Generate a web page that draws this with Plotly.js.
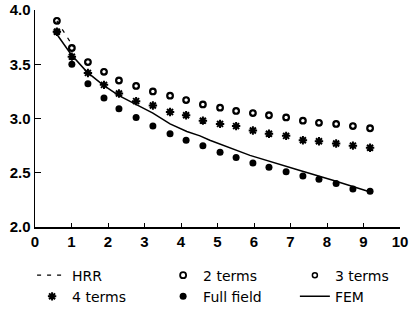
<!DOCTYPE html>
<html>
<head>
<meta charset="utf-8">
<script src="https://cdn.plot.ly/plotly-3.0.1.min.js"></script>
<style>html,body{margin:0;padding:0;background:#fff;}#chart{width:413px;height:322px;}</style>
</head>
<body>
<div id="chart"></div>
<script>
// Data
const xPts = [0.60, 1.01, 1.45, 1.89, 2.30, 2.77, 3.23, 3.70, 4.14, 4.60, 5.07, 5.51, 5.97, 6.41, 6.88, 7.34, 7.78, 8.25, 8.71, 9.18];
const twoTerms = [3.90, 3.65, 3.52, 3.43, 3.35, 3.30, 3.25, 3.21, 3.17, 3.13, 3.10, 3.07, 3.05, 3.03, 3.01, 2.98, 2.96, 2.95, 2.93, 2.91];
const threeTerms = [3.90, 3.65, 3.52, 3.43, 3.35, 3.30, 3.25, 3.21, 3.17, 3.13, 3.10, 3.07, 3.05, 3.03, 3.01, 2.98, 2.96, 2.95, 2.93, 2.91];
const fourTerms = [3.80, 3.57, 3.42, 3.31, 3.23, 3.16, 3.12, 3.06, 3.03, 2.98, 2.95, 2.93, 2.89, 2.86, 2.84, 2.80, 2.79, 2.77, 2.75, 2.73];
const fullField = [3.80, 3.50, 3.32, 3.19, 3.09, 3.01, 2.93, 2.86, 2.80, 2.75, 2.69, 2.64, 2.59, 2.55, 2.51, 2.47, 2.44, 2.40, 2.35, 2.33];
const femX = [0.55, 0.99, 1.42, 1.86, 2.30, 2.77, 3.23, 3.70, 4.16, 4.52, 4.79, 5.89, 6.36, 7.26, 8.16, 9.12];
const femY = [3.80, 3.59, 3.43, 3.31, 3.21, 3.13, 3.05, 2.95, 2.88, 2.84, 2.80, 2.66, 2.61, 2.52, 2.43, 2.33];
const hrrX = [0.60, 1.05];
const hrrY = [3.90, 3.66];
const yTicks = [2.0, 2.5, 3.0, 3.5, 4.0];
const xTicks = [0, 1, 2, 3, 4, 5, 6, 7, 8, 9, 10];

const traces = [
  {name: 'HRR', legend: 'legend', x: hrrX, y: hrrY, mode: 'lines', line: {color: '#000', width: 1.2, dash: '4px,6px'}},
  {name: '4 terms', legend: 'legend', x: xPts, y: fourTerms, mode: 'markers', marker: {symbol: 'asterisk-open', size: 7, color: '#000', line: {width: 2, color: '#000'}}},
  {name: '2 terms', legend: 'legend2', x: xPts, y: twoTerms, mode: 'markers', marker: {symbol: 'circle-open', size: 6, color: '#000', line: {width: 1.8, color: '#000'}}},
  {name: 'Full field', legend: 'legend2', x: xPts, y: fullField, mode: 'markers', marker: {symbol: 'circle', size: 7, color: '#000'}},
  {name: '3 terms', legend: 'legend3', x: xPts, y: threeTerms, mode: 'markers', marker: {symbol: 'circle-open', size: 5, color: '#000', line: {width: 1.5, color: '#000'}}},
  {name: 'FEM', legend: 'legend3', x: femX, y: femY, mode: 'lines', line: {color: '#000', width: 1.5}}
];

const legFont = {size: 14, family: 'DejaVu Sans, Arial, sans-serif', color: '#000'};
const legBase = {orientation: 'v', xanchor: 'left', y: -0.15, yanchor: 'top', traceorder: 'normal', font: legFont, bgcolor: 'rgba(0,0,0,0)'};

const layout = {
  width: 413, height: 322,
  margin: {l: 35, r: 13, t: 10, b: 92},
  paper_bgcolor: '#fff', plot_bgcolor: '#fff',
  font: {family: 'Liberation Sans, Arial, sans-serif', color: '#000', size: 13},
  showlegend: true,
  legend: Object.assign({}, legBase, {x: -0.008}),
  legend2: Object.assign({}, legBase, {x: 0.351}),
  legend3: Object.assign({}, legBase, {x: 0.712}),
  xaxis: {
    range: [0, 10], tickvals: xTicks, ticktext: xTicks.map(String),
    showgrid: false, zeroline: false, showline: true, linecolor: '#000', linewidth: 1.5,
    ticks: 'inside', ticklen: 4, tickcolor: '#000', tickwidth: 1,
    tickfont: {size: 15, family: 'Liberation Sans, Arial, sans-serif', weight: 'bold'}
  },
  yaxis: {
    range: [2, 4], tickvals: yTicks, ticktext: yTicks.map(v => v.toFixed(1)),
    showgrid: false, zeroline: false, showline: true, linecolor: '#000', linewidth: 1.5,
    ticks: 'inside', ticklen: 6, tickcolor: '#000', tickwidth: 1,
    tickfont: {size: 15, family: 'Liberation Sans, Arial, sans-serif', weight: 'bold'}
  }
};

Plotly.newPlot('chart', traces, layout, {displayModeBar: false, staticPlot: true});
</script>
</body>
</html>
